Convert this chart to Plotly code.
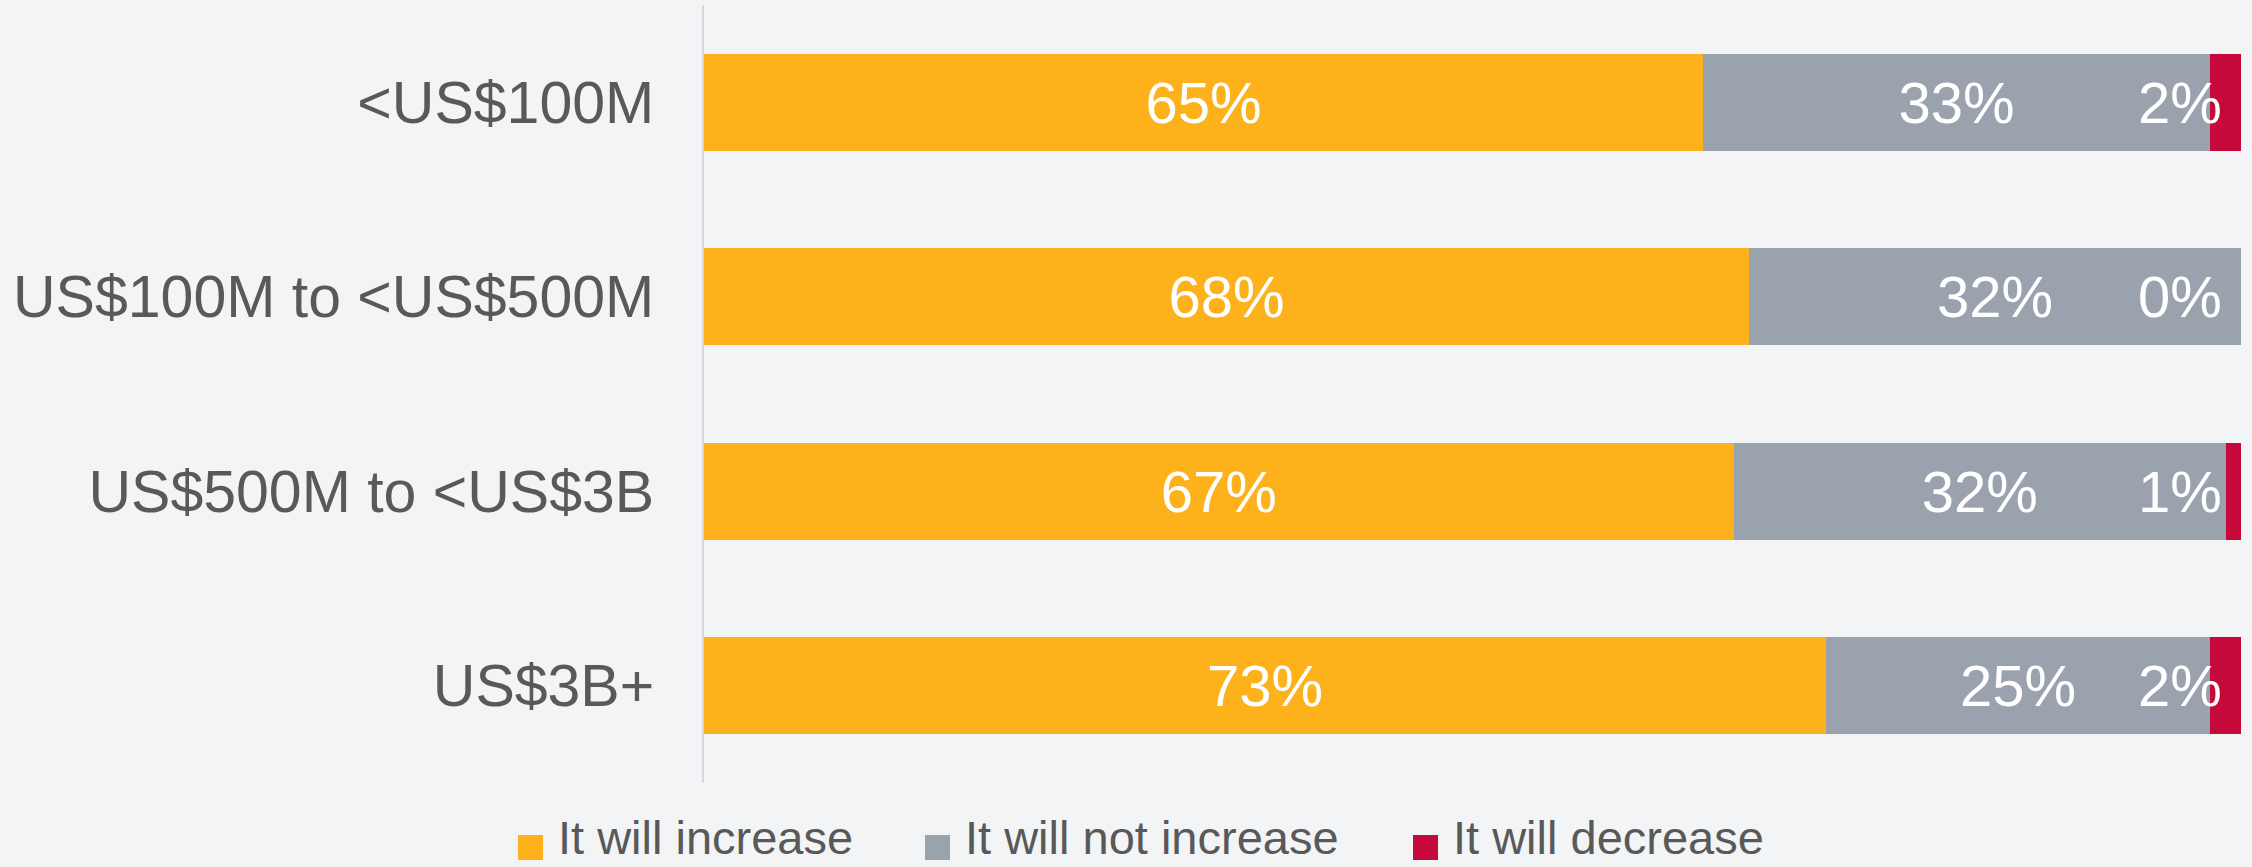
import plotly.graph_objects as go

# Survey results by company revenue band
categories = ["<US$100M", "US$100M to <US$500M", "US$500M to <US$3B", "US$3B+"]
series_names = ["It will increase", "It will not increase", "It will decrease"]
increase = [65, 68, 67, 73]
not_increase = [33, 32, 32, 25]
decrease = [2, 0, 1, 2]

colors = ["#FDB11A", "#9AA3AD", "#C6093B"]
font_family = "Liberation Sans, Arial, sans-serif"
label_size = 58

W, H = 2252, 867
margin = dict(l=704, r=11, t=5, b=84)
plot_w = W - margin["l"] - margin["r"]
plot_h = H - margin["t"] - margin["b"]


def px_x(x):
    return (x - margin["l"]) / plot_w


def px_y(y):
    return (H - margin["b"] - y) / plot_h


fig = go.Figure()

# Orange and grey segments carry centred value labels
for name, vals, col in [(series_names[0], increase, colors[0]),
                        (series_names[1], not_increase, colors[1])]:
    fig.add_trace(go.Bar(
        y=categories, x=vals, name=name, orientation="h",
        marker=dict(color=col, line=dict(width=0)),
        text=[f"{v}%" for v in vals], textposition="inside",
        insidetextanchor="middle", constraintext="none",
        textfont=dict(color="white", size=label_size, family=font_family),
        showlegend=False, width=0.5,
    ))

# Thin red segment; its labels sit just inside the bar end
fig.add_trace(go.Bar(
    y=categories, x=decrease, name=series_names[2], orientation="h",
    marker=dict(color=colors[2], line=dict(width=0)),
    showlegend=False, width=0.5,
))

for cat, a, b, c in zip(categories, increase, not_increase, decrease):
    fig.add_annotation(
        x=a + b + c, y=cat, xref="x", yref="y", text=f"{c}%",
        showarrow=False, xanchor="right", xshift=-17,
        font=dict(color="white", size=label_size, family=font_family),
    )

# Legend drawn as squares with labels beneath the bars
legend_items = [(518, 556), (925, 963), (1413, 1451)]
for (sx, tx), name, col in zip(legend_items, series_names, colors):
    fig.add_shape(
        type="rect", xref="paper", yref="paper",
        x0=px_x(sx), x1=px_x(sx + 25), y0=px_y(860), y1=px_y(835),
        fillcolor=col, line=dict(width=0),
    )
    fig.add_annotation(
        x=px_x(tx), y=px_y(866), xref="paper", yref="paper", text=name,
        showarrow=False, xanchor="left", yanchor="bottom",
        font=dict(color="#595959", size=47, family=font_family),
    )

fig.update_layout(
    width=W, height=H, barmode="stack",
    margin=margin,
    paper_bgcolor="#F2F4F6", plot_bgcolor="rgba(0,0,0,0)",
    font=dict(family=font_family),
    xaxis=dict(range=[0, 100], visible=False, fixedrange=True),
    yaxis=dict(
        categoryorder="array", categoryarray=categories, autorange="reversed",
        showline=True, linecolor="#D6D8DB", linewidth=2, showgrid=False,
        zeroline=False, ticks="", ticklabelstandoff=36,
        tickfont=dict(color="#595959", size=59, family=font_family),
    ),
)

fig.write_html("out.html")
